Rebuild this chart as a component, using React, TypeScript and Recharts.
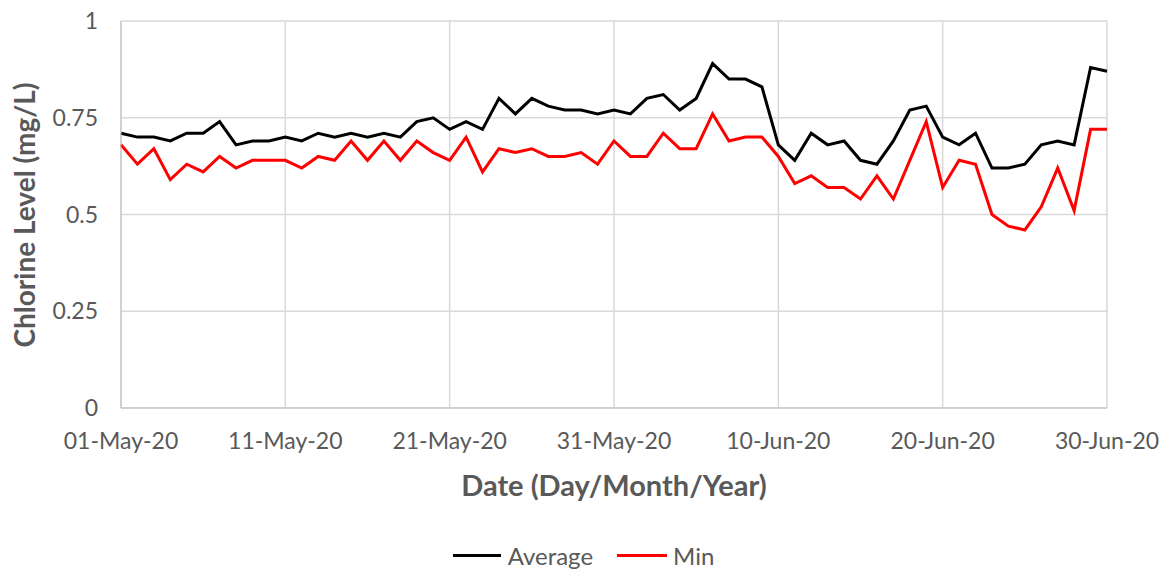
import React from 'react';
import { LineChart, Line, XAxis, YAxis, CartesianGrid, Legend, Label } from 'recharts';

const months = ['May', 'Jun'];
const daysInMonth = [31, 30];

// daily readings, 01-May-20 .. 30-Jun-20
const averageLevel = [
  0.71, 0.70, 0.70, 0.69, 0.71, 0.71, 0.74, 0.68, 0.69, 0.69,
  0.70, 0.69, 0.71, 0.70, 0.71, 0.70, 0.71, 0.70, 0.74, 0.75,
  0.72, 0.74, 0.72, 0.80, 0.76, 0.80, 0.78, 0.77, 0.77, 0.76,
  0.77, 0.76, 0.80, 0.81, 0.77, 0.80, 0.89, 0.85, 0.85, 0.83,
  0.68, 0.64, 0.71, 0.68, 0.69, 0.64, 0.63, 0.69, 0.77, 0.78,
  0.70, 0.68, 0.71, 0.62, 0.62, 0.63, 0.68, 0.69, 0.68, 0.88,
  0.87,
];
const minLevel = [
  0.68, 0.63, 0.67, 0.59, 0.63, 0.61, 0.65, 0.62, 0.64, 0.64,
  0.64, 0.62, 0.65, 0.64, 0.69, 0.64, 0.69, 0.64, 0.69, 0.66,
  0.64, 0.70, 0.61, 0.67, 0.66, 0.67, 0.65, 0.65, 0.66, 0.63,
  0.69, 0.65, 0.65, 0.71, 0.67, 0.67, 0.76, 0.69, 0.70, 0.70,
  0.65, 0.58, 0.60, 0.57, 0.57, 0.54, 0.60, 0.54, 0.64, 0.74,
  0.57, 0.64, 0.63, 0.50, 0.47, 0.46, 0.52, 0.62, 0.51, 0.72,
  0.72,
];
const xTicks = ['01-May-20', '11-May-20', '21-May-20', '31-May-20', '10-Jun-20', '20-Jun-20', '30-Jun-20'];
const yTicks = [0, 0.25, 0.5, 0.75, 1];

const dates: string[] = [];
months.forEach((m, i) => {
  for (let d = 1; d <= daysInMonth[i]; d++) {
    dates.push(`${String(d).padStart(2, '0')}-${m}-20`);
  }
});

const data = dates.map((date, i) => ({
  date,
  Average: averageLevel[i],
  Min: minLevel[i],
}));

const font = 'Lato, "Open Sans", sans-serif';
const grey = '#595959';

const LegendContent = () => (
  <div style={{ display: 'flex', justifyContent: 'center', alignItems: 'center', fontFamily: font, fontSize: 24, color: grey }}>
    <span style={{ display: 'inline-block', width: 48, height: 3, background: '#000', marginRight: 7 }} />
    <span style={{ marginRight: 24 }}>Average</span>
    <span style={{ display: 'inline-block', width: 50, height: 3, background: '#ff0000', marginRight: 6 }} />
    <span>Min</span>
  </div>
);

export default function App() {
  return (
    <div style={{ position: 'absolute', left: 0, top: 0, background: '#fff' }}>
      <LineChart
        width={1167}
        height={572}
        data={data}
        margin={{ top: 21, right: 60, bottom: 0, left: 0 }}
      >
        <CartesianGrid stroke="#d9d9d9" strokeWidth={1.5} vertical horizontal />
        <XAxis
          dataKey="date"
          ticks={xTicks}
          interval={0}
          height={164}
          tickLine={false}
          tickMargin={19}
          stroke="#bfbfbf"
          tick={{ fill: grey, fontSize: 23, fontFamily: font }}
        >
          <Label
            content={() => (
              <text x={614} y={496} textAnchor="middle" fill={grey} fontFamily={font} fontSize={29} fontWeight="bold">
                Date (Day/Month/Year)
              </text>
            )}
          />
        </XAxis>
        <YAxis
          domain={[0, 1]}
          ticks={yTicks}
          width={121}
          tickLine={false}
          tickMargin={17}
          stroke="#bfbfbf"
          tick={{ fill: grey, fontSize: 23, fontFamily: font }}
        >
          <Label
            content={() => (
              <text x={35} y={215} transform="rotate(-90 35 215)" textAnchor="middle" fill={grey} fontFamily={font} fontSize={28} fontWeight="bold">
                Chlorine Level (mg/L)
              </text>
            )}
          />
        </YAxis>
        <Legend
          layout="horizontal"
          verticalAlign="middle"
          align="center"
          content={LegendContent}
          wrapperStyle={{ top: 541, left: 0, width: 1167 }}
        />
        <Line type="linear" dataKey="Average" stroke="#000000" strokeWidth={3} dot={false} isAnimationActive={false} />
        <Line type="linear" dataKey="Min" stroke="#ff0000" strokeWidth={3} dot={false} isAnimationActive={false} />
      </LineChart>
    </div>
  );
}
